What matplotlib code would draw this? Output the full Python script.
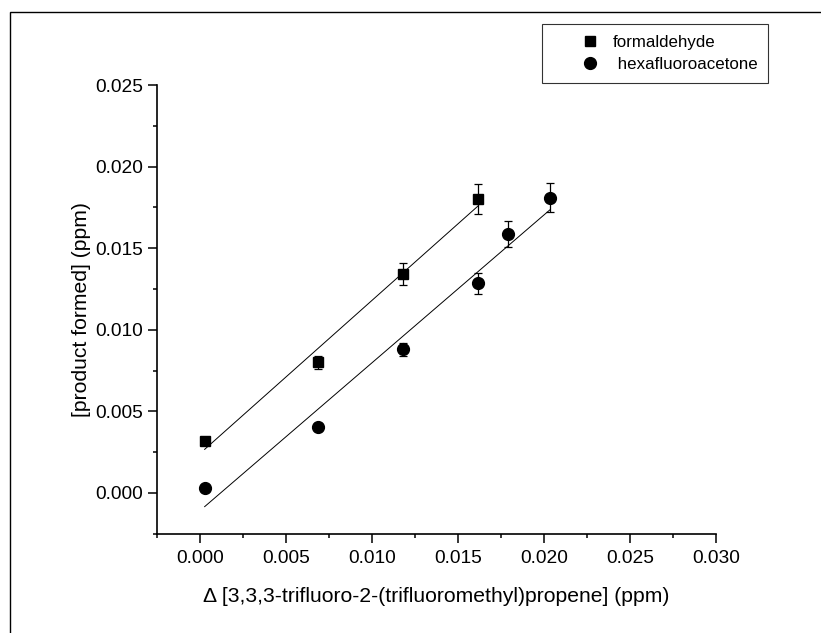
# %%
import numpy as np
import matplotlib
matplotlib.use("Agg")
import matplotlib.pyplot as plt
from matplotlib.patches import Rectangle
from matplotlib.lines import Line2D
from matplotlib.ticker import MultipleLocator, FormatStrFormatter

plt.rcParams['font.family'] = ['Liberation Sans', 'DejaVu Sans']

# %%
# DATA
x_form = [0.00027, 0.00688, 0.01178, 0.01618]
y_form = [0.00319, 0.00801, 0.01342, 0.01801]
err_form = [0.0002, 0.0004, 0.00069, 0.0009]

x_hfa = [0.00027, 0.00688, 0.01178, 0.01618, 0.01789, 0.02033]
y_hfa = [0.00029, 0.00406, 0.0088, 0.01285, 0.01587, 0.0181]
err_hfa = [0.0001, 0.0002, 0.0004, 0.00065, 0.0008, 0.00089]

labels = ['formaldehyde', ' hexafluoroacetone']

# %%
fig = plt.figure(figsize=(8.21, 6.33), dpi=100)
ax = fig.add_axes([0.1912, 0.1569, 0.6813, 0.7088])

# outer frame (only top/left visible in the original)
top = 1 - 12 / 633
fig.patches.append(Rectangle((10 / 821, -0.2), 1.2, top + 0.2,
                             transform=fig.transFigure, fill=False,
                             edgecolor='black', linewidth=1.0))

ax.errorbar(x_form, y_form, yerr=err_form, fmt='s', color='black', ms=7.5,
            ecolor='black', elinewidth=0.9, capsize=3, capthick=0.9, zorder=3)
ax.errorbar(x_hfa, y_hfa, yerr=err_hfa, fmt='o', color='black', ms=8.5,
            ecolor='black', elinewidth=0.9, capsize=3, capthick=0.9, zorder=3)

# linear fits
for xs, ys in [(x_form, y_form), (x_hfa, y_hfa)]:
    k, b = np.polyfit(xs, ys, 1)
    xx = np.array([min(xs), max(xs)])
    ax.plot(xx, k * xx + b, color='black', lw=0.7, zorder=2)

ax.set_xlim(-0.0025, 0.030)
ax.set_ylim(-0.0025, 0.025)
ax.xaxis.set_major_locator(MultipleLocator(0.005))
ax.xaxis.set_minor_locator(MultipleLocator(0.0025))
ax.yaxis.set_major_locator(MultipleLocator(0.005))
ax.yaxis.set_minor_locator(MultipleLocator(0.0025))
ax.xaxis.set_major_formatter(FormatStrFormatter('%.3f'))
ax.yaxis.set_major_formatter(FormatStrFormatter('%.3f'))

ax.spines['top'].set_visible(False)
ax.spines['right'].set_visible(False)
ax.spines['left'].set_linewidth(1.2)
ax.spines['bottom'].set_linewidth(1.2)
ax.tick_params(which='major', direction='out', length=6.5, width=1.1,
               labelsize=13.8, pad=3.5)
ax.tick_params(axis='x', which='major', pad=5.5)
ax.tick_params(which='minor', direction='out', length=3.2, width=1.1)

ax.set_xlabel('Δ [3,3,3-trifluoro-2-(trifluoromethyl)propene] (ppm)',
              fontsize=15.2, labelpad=14)
ax.set_ylabel('[product formed] (ppm)', fontsize=15.2, labelpad=3)

handles = [Line2D([], [], ls='none', marker='s', color='black', ms=7.5),
           Line2D([], [], ls='none', marker='o', color='black', ms=8.5)]
leg = ax.legend(handles, labels, loc='upper left',
                bbox_to_anchor=(541.7 / 821, 1 - 24.3 / 633),
                bbox_transform=fig.transFigure, fontsize=12.2, numpoints=1,
                frameon=True, fancybox=False, edgecolor='black',
                borderpad=0.62, labelspacing=0.45, handlelength=4.5,
                handletextpad=-0.9, borderaxespad=0)
leg.get_frame().set_linewidth(0.8)

fig.savefig('out.png', dpi=100)
